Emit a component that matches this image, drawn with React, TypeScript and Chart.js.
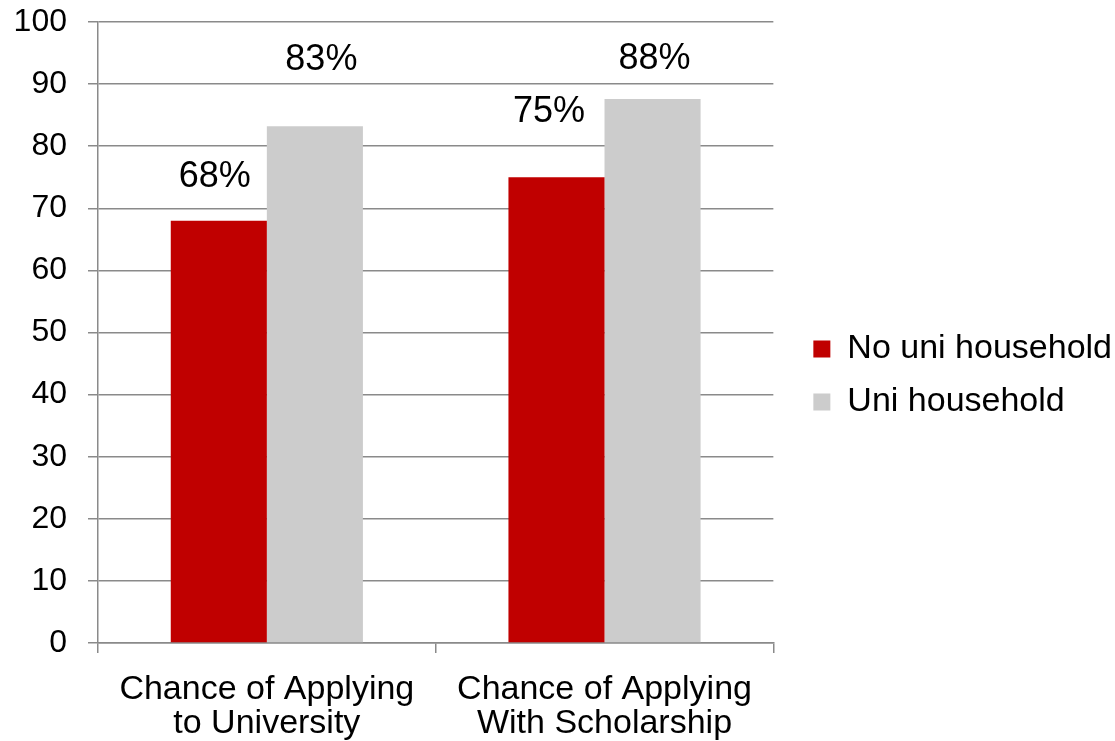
import React, { useEffect, useRef } from "react";
import { Chart, registerables } from "chart.js";

Chart.register(...registerables);

const categories: string[][] = [
  ["Chance of Applying", "to University"],
  ["Chance of Applying", "With Scholarship"],
];
const seriesNames = ["No uni household", "Uni household"];
const noUniHousehold = [68, 75];
const uniHousehold = [83.2, 87.6];
const noUniLabels = ["68%", "75%"];
const uniLabels = ["83%", "88%"];
const yTicks = { min: 0, max: 100, step: 10 };

// label placement offsets (pixels) relative to bar top centre: [dx, dy above]
const LABEL_OFFSETS = [
  [[-4, 44], [-7.5, 65.5]],
  [[6.5, 66.5], [2, 39.5]],
];
// legend nudge (pixels) after layout
const LEGEND_SHIFT = { x: 21, y: -6 };

const FONT = "'Liberation Sans', Arial, sans-serif";
const GRID = "#8a8a8a";

const valueLabels = {
  id: "valueLabels",
  afterDatasetsDraw(chart: any) {
    const ctx = chart.ctx;
    const texts = [noUniLabels, uniLabels];
    ctx.save();
    ctx.font = `36px ${FONT}`;
    ctx.fillStyle = "#000";
    ctx.textAlign = "center";
    ctx.textBaseline = "middle";
    chart.data.datasets.forEach((_: any, di: number) => {
      const meta = chart.getDatasetMeta(di);
      meta.data.forEach((bar: any, i: number) => {
        const [dx, dy] = LABEL_OFFSETS[di][i];
        ctx.fillText(texts[di][i], bar.x + dx, bar.y - dy);
      });
    });
    ctx.restore();
  },
};

const legendNudge = {
  id: "legendNudge",
  afterLayout(chart: any) {
    const lg = chart.legend;
    if (!lg) return;
    lg.left += LEGEND_SHIFT.x;
    lg.right += LEGEND_SHIFT.x;
    lg.top += LEGEND_SHIFT.y;
    lg.bottom += LEGEND_SHIFT.y;
  },
};

export default function App() {
  const ref = useRef<HTMLCanvasElement>(null);
  useEffect(() => {
    document.body.style.margin = "0";
    const chart = new Chart(ref.current!, {
      type: "bar",
      data: {
        labels: categories,
        datasets: [
          { label: seriesNames[0], data: noUniHousehold, backgroundColor: "#C00000" },
          { label: seriesNames[1], data: uniHousehold, backgroundColor: "#CCCCCC" },
        ],
      },
      options: {
        animation: false,
        responsive: false,
        maintainAspectRatio: false,
        layout: { padding: { top: 22, right: 14, left: 0, bottom: 0 } },
        datasets: { bar: { barPercentage: 1, categoryPercentage: 0.569 } } as any,
        plugins: {
          tooltip: { enabled: false },
          legend: {
            position: "right",
            align: "center",
            maxWidth: 400,
            labels: {
              boxWidth: 17,
              boxHeight: 17,
              padding: 19,
              color: "#000",
              font: { family: FONT, size: 34 },
            },
          } as any,
        },
        scales: {
          x: {
            afterFit: (s: any) => { s.height = 98; },
            grid: {
              offset: true,
              drawOnChartArea: false,
              drawTicks: true,
              tickLength: 10,
              color: GRID,
              lineWidth: 1.5,
            },
            border: { color: GRID, width: 1.5 },
            ticks: {
              color: "#000",
              padding: 19,
              font: { family: FONT, size: 34, lineHeight: 1.02 },
              maxRotation: 0,
            },
          },
          y: {
            min: yTicks.min,
            max: yTicks.max,
            afterFit: (s: any) => {
              s.width = 98;
              s.paddingTop = 0;
              s.paddingBottom = 0;
            },
            grid: { color: GRID, lineWidth: 1.5, tickLength: 10 },
            border: { color: GRID, width: 1.5 },
            ticks: {
              stepSize: yTicks.step,
              color: "#000",
              padding: 21,
              font: { family: FONT, size: 32 },
            },
          },
        },
      },
      plugins: [valueLabels, legendNudge],
    });
    return () => chart.destroy();
  }, []);
  return (
    <div style={{ width: 1115, height: 741 }}>
      <canvas ref={ref} width={1115} height={741} />
    </div>
  );
}
